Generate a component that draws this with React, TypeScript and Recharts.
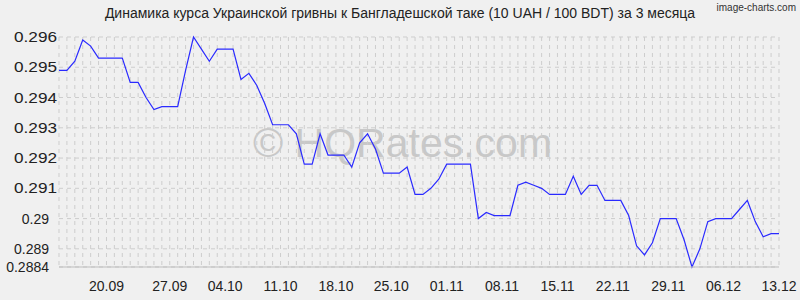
import React from "react";
import { LineChart, Line, XAxis, YAxis, CartesianGrid } from "recharts";

// daily UAH/BDT rate (10 UAH / 100 BDT), 13.09 .. 13.12
const rates = [
  0.2949, 0.2949, 0.2952, 0.2959, 0.2957, 0.2953, 0.2953, 0.2953, 0.2953, 0.2945,
  0.2945, 0.294, 0.2936, 0.2937, 0.2937, 0.2937, 0.2949, 0.296, 0.2956, 0.2952,
  0.2956, 0.2956, 0.2956, 0.2946, 0.2948, 0.2944, 0.2938, 0.2931, 0.2931, 0.2931,
  0.2928, 0.2918, 0.2918, 0.2928, 0.2921, 0.2921, 0.2921, 0.2917, 0.2925, 0.2928,
  0.2923, 0.2915, 0.2915, 0.2915, 0.2917, 0.2908, 0.2908, 0.291, 0.2913, 0.2918,
  0.2918, 0.2918, 0.2918, 0.29, 0.2902, 0.2901, 0.2901, 0.2901, 0.2911, 0.2912,
  0.2911, 0.291, 0.2908, 0.2908, 0.2908, 0.2914, 0.2908, 0.2911, 0.2911, 0.2906,
  0.2906, 0.2906, 0.2901, 0.2891, 0.2888, 0.2892, 0.29, 0.29, 0.29, 0.2893,
  0.2884, 0.289, 0.2899, 0.29, 0.29, 0.29, 0.2903, 0.2906, 0.2899, 0.2894,
  0.2895, 0.2895,
];

const xTickIdx = [6, 14, 21, 28, 35, 42, 49, 56, 63, 70, 77, 84, 91];
const xTickLabels = [
  "20.09", "27.09", "04.10", "11.10", "18.10", "25.10", "01.11",
  "08.11", "15.11", "22.11", "29.11", "06.12", "13.12",
];
const yTicks = [0.2884, 0.289, 0.29, 0.291, 0.292, 0.293, 0.294, 0.295, 0.296];

const data = rates.map((v, i) => ({ i, v }));
const FONT = "'Liberation Sans', Arial, sans-serif";

function YTick(props: any) {
  const { y, payload } = props;
  const v = payload.value as number;
  const wide = v >= 0.291;
  return (
    <text
      x={wide ? 57 : 49}
      y={y}
      dy={5}
      textAnchor="end"
      fontSize={14}
      fontFamily={FONT}
      fill="#222"
      {...(wide ? { textLength: 43, lengthAdjust: "spacingAndGlyphs" } : {})}
    >
      {String(v)}
    </text>
  );
}

function XTick(props: any) {
  const { x, y, payload } = props;
  const k = xTickIdx.indexOf(payload.value);
  return (
    <text x={x} y={y} dy={16} textAnchor="middle" fontSize={14} fontFamily={FONT} fill="#222">
      {k >= 0 ? xTickLabels[k] : ""}
    </text>
  );
}

export default function App() {
  return (
    <div
      style={{
        position: "absolute",
        left: 0,
        top: 0,
        width: 800,
        height: 300,
        background: "#f0f0f0",
        fontFamily: FONT,
        overflow: "hidden",
      }}
    >
      <div style={{ position: "absolute", right: 4, top: 2, fontSize: 10, color: "#333" }}>
        image-charts.com
      </div>
      <div
        style={{
          position: "absolute",
          left: 0,
          top: 5,
          width: 800,
          textAlign: "center",
          fontSize: 14,
          color: "#222",
        }}
      >
        Динамика курса Украинской гривны к Бангладешской таке (10 UAH / 100 BDT) за 3 месяца
      </div>
      <div
        style={{
          position: "absolute",
          left: 253,
          top: 120,
          fontSize: 41,
          color: "#c8c8c8",
          whiteSpace: "nowrap",
        }}
      >
        © HQRates.com
      </div>
      <div style={{ position: "absolute", left: 0, top: 0 }}>
        <LineChart width={800} height={300} data={data} margin={{ top: 37, right: 21, bottom: 0, left: 0 }}>
          <CartesianGrid
            stroke="#cdcdcd"
            strokeDasharray="4 4"
            verticalCoordinatesGenerator={({ xAxis, offset }: any) =>
              rates.map((_, i) =>
                xAxis && typeof xAxis.scale === "function"
                  ? xAxis.scale(i)
                  : offset.left + (i / (rates.length - 1)) * offset.width
              )
            }
          />
          <XAxis
            dataKey="i"
            type="number"
            domain={[0, rates.length - 1]}
            ticks={xTickIdx}
            interval={0}
            height={33}
            axisLine={{ stroke: "#bdbdbd" }}
            tickLine={false}
            tick={<XTick />}
          />
          <YAxis
            type="number"
            domain={[0.2884, 0.296]}
            ticks={yTicks}
            interval={0}
            width={59}
            axisLine={false}
            tickLine={false}
            tick={<YTick />}
          />
          <Line
            type="linear"
            dataKey="v"
            stroke="#2a2aff"
            strokeWidth={1.2}
            dot={false}
            isAnimationActive={false}
          />
        </LineChart>
      </div>
    </div>
  );
}
